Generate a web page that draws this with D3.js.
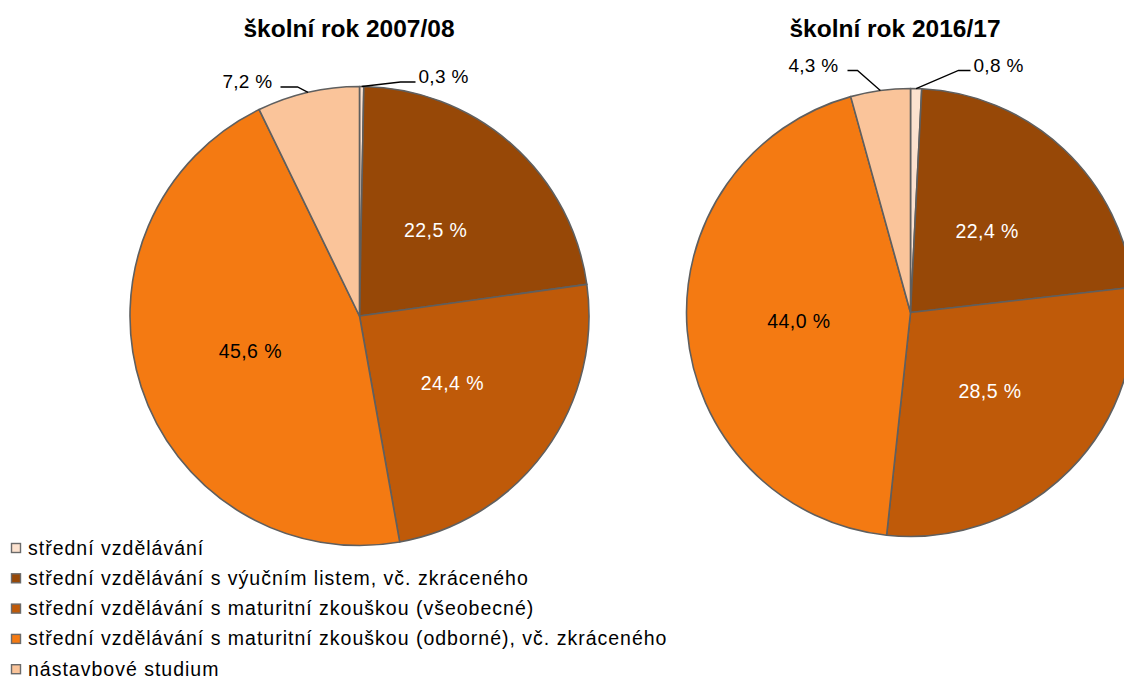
<!DOCTYPE html>
<html>
<head>
<meta charset="utf-8">
<script src="https://cdn.jsdelivr.net/npm/d3@7"></script>
<style>
body { margin:0; background:#fff; }
svg { display:block; font-family:"Liberation Sans", Arial, sans-serif; }
</style>
</head>
<body>
<svg></svg>
<script>
var width = 1124;
var height = 680;
// chart data
var categories = [
    "střední vzdělávání",
    "střední vzdělávání s výučním listem, vč. zkráceného",
    "střední vzdělávání s maturitní zkouškou (všeobecné)",
    "střední vzdělávání s maturitní zkouškou (odborné), vč. zkráceného",
    "nástavbové studium"
];
var titles = ["školní rok 2007/08", "školní rok 2016/17"];
var values2007 = [0.3, 22.5, 24.4, 45.6, 7.2];
var values2016 = [0.8, 22.4, 28.5, 44.0, 4.3];
var colors = ["#FCE2CF", "#974807", "#BF5A09", "#F47A12", "#FAC49A"];
var labelColors = ["#000", "#fff", "#fff", "#000", "#000"];

var svg = d3.select("svg")
    .attr("width", width)
    .attr("height", height);

// layout of both pies; outside labels for small slices: elbow/end offsets from center
var pies = [
    {values: values2007, cx: 359.5, cy: 316, r: 229.5, titleX: 349,
     outside: {0: {elbow: [41, -234], end: [56, -234], anchor: "start", gap: 3},
               4: {elbow: [-62, -229], end: [-79, -229], anchor: "end", gap: 8}}},
    {values: values2016, cx: 910.5, cy: 312.5, r: 224, titleX: 895,
     outside: {0: {elbow: [48, -242], end: [60, -242], anchor: "start", gap: 3},
               4: {elbow: [-53, -242], end: [-63, -242], anchor: "end", gap: 9}}}
];

var pie = d3.pie().sort(null).value(d => d);

var fmt = v => d3.format(".1f")(v).replace(".", ",") + " %";

pies.forEach(function(p, i) {
    var g = svg.append("g")
        .attr("transform", "translate(" + p.cx + "," + p.cy + ")");
    var arc = d3.arc().innerRadius(0).outerRadius(p.r);
    var arcs = pie(p.values);

    g.selectAll("path")
        .data(arcs)
        .enter()
        .append("path")
            .attr("d", arc)
            .attr("fill", (d, j) => colors[j])
            .attr("stroke", "#5f5f5f")
            .attr("stroke-width", 1.6)
            .attr("stroke-linejoin", "round");

    arcs.forEach(function(d, j) {
        var o = p.outside[j];
        if (o) {
            var mid = (d.startAngle + d.endAngle) / 2;
            var sx = Math.sin(mid) * p.r, sy = -Math.cos(mid) * p.r;
            g.append("polyline")
                .attr("points", [[sx, sy], o.elbow, o.end].map(q => q.join(",")).join(" "))
                .attr("fill", "none")
                .attr("stroke", "#000")
                .attr("stroke-width", 1.3);
            g.append("text")
                .attr("x", o.end[0] + (o.anchor == "start" ? o.gap : -o.gap))
                .attr("y", o.end[1] + 1)
                .attr("text-anchor", o.anchor)
                .style("font-size", "19px")
                .style("letter-spacing", "0.3px")
                .attr("fill", "#000")
                .text(fmt(d.data));
        } else {
            var c = arc.centroid(d);
            g.append("text")
                .attr("x", c[0])
                .attr("y", c[1])
                .attr("dy", "0.35em")
                .attr("text-anchor", "middle")
                .style("font-size", "19.5px")
                .style("letter-spacing", "0.4px")
                .attr("fill", labelColors[j])
                .text(fmt(d.data));
        }
    });

    svg.append("text")
        .attr("x", p.titleX)
        .attr("y", 37)
        .attr("text-anchor", "middle")
        .style("font-size", "24.5px")
        .style("font-weight", "bold")
        .text(titles[i]);
});

// legend
var legend = svg.append("g");
var items = legend.selectAll("g")
    .data(categories)
    .enter()
    .append("g")
        .attr("transform", (d, i) => "translate(11," + (554.5 + i * 30.3) + ")");
items.append("rect")
    .attr("x", 0.5)
    .attr("y", -11)
    .attr("width", 9)
    .attr("height", 9)
    .attr("fill", (d, i) => colors[i])
    .attr("stroke", "#6a6a6a")
    .attr("stroke-width", 1.4);
items.append("text")
    .attr("x", 17)
    .style("font-size", "19.5px")
    .style("letter-spacing", "1px")
    .text(d => d);
</script>
</body>
</html>
